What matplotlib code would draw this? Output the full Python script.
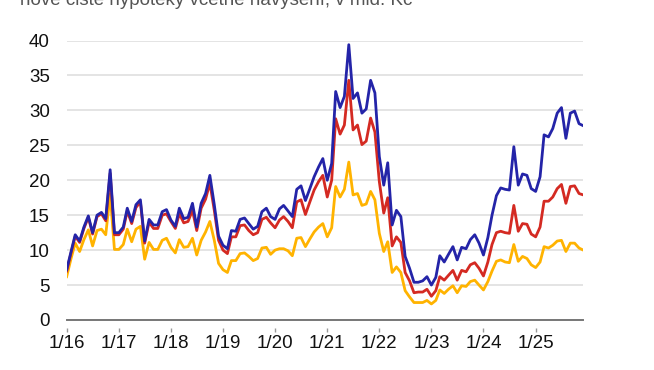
import pandas as pd
import matplotlib
matplotlib.use("Agg")
import matplotlib.pyplot as plt

plt.rcParams['font.family'] = ['Liberation Sans', 'DejaVu Sans']

# monthly data, 1/2016 .. 12/2025 (mld. Kc)
months = pd.date_range('2016-01-01', periods=120, freq='MS')

blue = [7.2, 9.8, 12.2, 11.3, 13.3, 14.9, 12.5, 15.0, 15.4, 14.5, 21.5, 12.5,
        12.5, 13.3, 16.0, 14.1, 16.5, 17.2, 11.3, 14.4, 13.6, 13.6, 15.5, 15.8,
        14.3, 13.4, 16.0, 14.5, 14.7, 16.7, 13.3, 16.7, 18.1, 20.7, 16.5, 12.0,
        10.7, 10.2, 12.8, 12.7, 14.4, 14.6, 13.8, 13.0, 13.4, 15.5, 16.0, 14.8,
        14.4, 15.9, 16.4, 15.6, 14.8, 18.7, 19.2, 17.1, 18.8, 20.5, 21.9, 23.1,
        20.0, 22.4, 32.7, 30.4, 32.0, 39.4, 31.7, 32.5, 29.6, 30.2, 34.3, 32.5,
        23.4, 19.3, 22.5, 13.6, 15.7, 14.8, 9.1, 7.4, 5.4, 5.4, 5.6, 6.2,
        5.0, 6.1, 9.2, 8.3, 9.4, 10.5, 8.6, 10.4, 10.2, 11.5, 12.2, 11.0,
        9.3, 11.8, 15.0, 17.8, 18.9, 18.7, 18.6, 24.8, 19.3, 20.9, 20.7, 18.8,
        18.4, 20.5, 26.5, 26.2, 27.4, 29.6, 30.4, 26.0, 29.6, 29.9, 28.1, 27.8]

red = [7.0, 9.6, 12.0, 11.1, 13.1, 14.7, 12.3, 14.8, 15.2, 14.2, 21.0, 12.2,
       12.2, 13.0, 15.6, 13.8, 16.1, 16.9, 11.0, 14.0, 13.1, 13.1, 15.0, 15.2,
       14.1, 13.1, 15.2, 13.9, 14.1, 15.7, 12.8, 16.0, 17.3, 19.6, 15.7, 11.4,
       10.0, 9.5, 11.9, 11.9, 13.5, 13.6, 12.8, 12.2, 12.5, 14.4, 14.7, 13.9,
       13.2, 14.3, 14.8, 14.1, 13.2, 16.9, 17.2, 15.1, 16.9, 18.6, 19.8, 20.7,
       17.6, 20.0, 28.8, 26.6, 27.9, 34.3, 27.2, 27.9, 25.1, 25.6, 28.9, 26.9,
       19.8, 15.3, 17.5, 10.6, 11.9, 11.1, 6.8, 5.6, 3.9, 4.0, 4.0, 4.4,
       3.4, 4.2, 6.2, 5.7, 6.4, 7.1, 5.7, 7.1, 6.9, 7.9, 8.2, 7.4,
       6.3, 8.3, 10.8, 12.5, 12.7, 12.5, 12.4, 16.4, 12.7, 13.8, 13.7, 12.3,
       11.9, 13.3, 17.0, 17.0, 17.6, 18.8, 19.4, 16.7, 19.1, 19.2, 18.1, 17.9]

yellow = [6.2, 8.8, 11.0, 9.8, 11.5, 12.9, 10.6, 12.8, 13.0, 12.2, 18.0, 10.1,
          10.1, 10.8, 13.0, 11.2, 13.0, 13.4, 8.7, 11.1, 10.1, 10.1, 11.4, 11.7,
          10.4, 9.6, 11.5, 10.4, 10.5, 11.7, 9.3, 11.4, 12.6, 14.1, 11.4, 8.1,
          7.2, 6.8, 8.5, 8.5, 9.5, 9.6, 9.1, 8.5, 8.8, 10.3, 10.4, 9.4,
          10.0, 10.2, 10.2, 9.9, 9.2, 11.7, 11.8, 10.5, 11.6, 12.6, 13.3, 13.8,
          11.9, 13.2, 19.1, 17.6, 18.7, 22.6, 17.9, 18.1, 16.4, 16.6, 18.4, 17.2,
          12.4, 9.8, 11.2, 6.8, 7.6, 6.8, 4.2, 3.3, 2.5, 2.5, 2.5, 2.8,
          2.3, 2.8, 4.3, 3.8, 4.4, 4.9, 3.9, 4.9, 4.8, 5.5, 5.7, 5.0,
          4.3, 5.5, 7.0, 8.4, 8.6, 8.3, 8.2, 10.8, 8.4, 9.1, 8.8, 7.9,
          7.5, 8.3, 10.5, 10.3, 10.7, 11.3, 11.4, 9.8, 11.0, 11.0, 10.3, 10.0]

title = 'nové čisté hypotéky včetně navýšení, v mld. Kč'
yticks = [0, 5, 10, 15, 20, 25, 30, 35, 40]
xticks = pd.date_range('2016-01-01', '2025-01-01', freq='YS')
xlabels = ['1/16', '1/17', '1/18', '1/19', '1/20', '1/21', '1/22', '1/23', '1/24', '1/25']

fig = plt.figure(figsize=(6.54, 3.70), dpi=100)
ax = fig.add_axes([66.65/654, 1-320/370, (583.3-66.65)/654, (320-40.5)/370])

ax.plot(months, yellow, color='#ffb300', lw=2.0, solid_joinstyle='round', zorder=3)
ax.plot(months, red, color='#d42a22', lw=2.0, solid_joinstyle='round', zorder=4)
ax.plot(months, blue, color='#2424a8', lw=2.0, solid_joinstyle='round', zorder=5)

ax.set_xlim(months[0], months[-1])
ax.set_ylim(0, 40)
ax.set_yticks(yticks)
ax.set_xticks(xticks)
ax.set_xticklabels(xlabels)
ax.grid(axis='y', color='#e2e2e2', lw=1.3)
ax.set_axisbelow(True)
for s in ['top', 'right', 'left']:
    ax.spines[s].set_visible(False)
ax.spines['bottom'].set_color('#777777')
ax.spines['bottom'].set_linewidth(1.4)
ax.spines['bottom'].set_zorder(6)
ax.tick_params(axis='y', length=0, pad=12, labelsize=13.5, labelcolor='#111111')
ax.tick_params(axis='x', length=0, pad=11, labelsize=13.5, labelcolor='#111111')

# small detached tick marks under the axis
ax.vlines(xticks, -0.043, -0.028, transform=ax.get_xaxis_transform(),
          colors='#999999', lw=1, clip_on=False)

fig.text(20/654, 1-5/370, title, fontsize=13.5, color='#555555', va='baseline')

fig.savefig('out.png', dpi=100)
